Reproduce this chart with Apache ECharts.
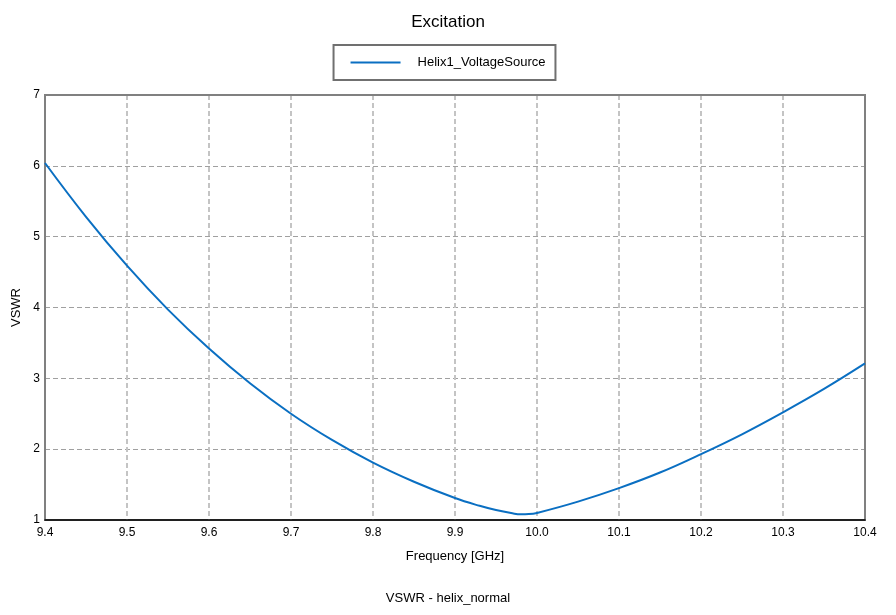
<!DOCTYPE html>
<html>
<head>
<meta charset="utf-8">
<script src="https://cdn.jsdelivr.net/npm/echarts@6/dist/echarts.min.js"></script>
<style>html,body{margin:0;padding:0;background:#fff;}#c{width:896px;height:615px;}</style>
</head>
<body>
<div id="c"></div>
<script>
const seriesName = 'Helix1_VoltageSource';
const freq = [9.40, 9.45, 9.50, 9.55, 9.60, 9.65, 9.70, 9.75, 9.80, 9.85, 9.90, 9.93, 9.95, 9.97, 9.98, 9.99, 10.00, 10.05, 10.10, 10.15, 10.20, 10.25, 10.30, 10.35, 10.40];
const vswr = [6.04, 5.28, 4.59, 3.97, 3.42, 2.93, 2.50, 2.13, 1.81, 1.54, 1.31, 1.20, 1.14, 1.095, 1.08, 1.083, 1.10, 1.26, 1.45, 1.67, 1.93, 2.21, 2.52, 2.85, 3.21];

const chart = echarts.init(document.getElementById('c'), null, {renderer: 'canvas'});
const font = '"Liberation Sans", Arial, sans-serif';
chart.setOption({
  animation: false,
  backgroundColor: '#fff',
  textStyle: {fontFamily: font},
  title: [
    {text: 'Excitation', left: 'center', top: 9, textStyle: {fontSize: 17, fontWeight: 'normal', color: '#000', fontFamily: font}},
    {text: 'VSWR - helix_normal', left: 'center', top: 587, textStyle: {fontSize: 13, fontWeight: 'normal', color: '#000', fontFamily: font}}
  ],
  legend: {
    top: 45, left: 'center',
    data: [seriesName],
    icon: 'rect', itemWidth: 50, itemHeight: 2,
    borderColor: '#707070', borderWidth: 2, borderRadius: 0,
    padding: [11, 10, 11, 17],
    textStyle: {fontSize: 13, color: '#000', fontFamily: font, padding: [0, 0, 0, 12]}
  },
  grid: {left: 45, right: 31, top: 95, bottom: 95, show: true, borderColor: '#808080', borderWidth: 2, backgroundColor: '#fff'},
  xAxis: [{
    type: 'value', min: 9.4, max: 10.4, interval: 0.1,
    name: 'Frequency [GHz]', nameLocation: 'middle', nameGap: 30,
    nameTextStyle: {fontSize: 13, color: '#000', fontFamily: font},
    axisLine: {show: true, lineStyle: {color: '#000', width: 1.5}},
    axisTick: {show: false},
    axisLabel: {fontSize: 12, color: '#000', margin: 7, formatter: v => v.toFixed(1), fontFamily: font},
    splitLine: {show: true, showMinLine: false, showMaxLine: false, lineStyle: {color: '#c4c4c4', width: 2, type: [5, 3]}}
  }, {
    type: 'value', position: 'top', min: 9.4, max: 10.4,
    axisLine: {show: true, lineStyle: {color: '#808080', width: 2}},
    axisTick: {show: false}, axisLabel: {show: false}, splitLine: {show: false}
  }],
  yAxis: [{
    type: 'value', min: 1, max: 7, interval: 1,
    name: 'VSWR', nameLocation: 'middle', nameGap: 21, nameRotate: 90,
    nameTextStyle: {fontSize: 13, color: '#000', fontFamily: font},
    axisLine: {show: true, lineStyle: {color: '#808080', width: 2}},
    axisTick: {show: false},
    axisLabel: {fontSize: 12, color: '#000', margin: 5, fontFamily: font},
    splitLine: {show: true, showMinLine: false, showMaxLine: false, lineStyle: {color: '#a0a0a0', width: 1.2, type: [5, 3]}}
  }, {
    type: 'value', position: 'right', min: 1, max: 7,
    axisLine: {show: true, lineStyle: {color: '#808080', width: 2}},
    axisTick: {show: false}, axisLabel: {show: false}, splitLine: {show: false}
  }],
  series: [{
    name: seriesName, type: 'line', smooth: 0.4, symbol: 'none',
    xAxisIndex: 0, yAxisIndex: 0,
    data: freq.map((f, i) => [f, vswr[i]]),
    lineStyle: {color: '#0a6fc2', width: 2},
    itemStyle: {color: '#0a6fc2'}
  }]
});
</script>
</body>
</html>
